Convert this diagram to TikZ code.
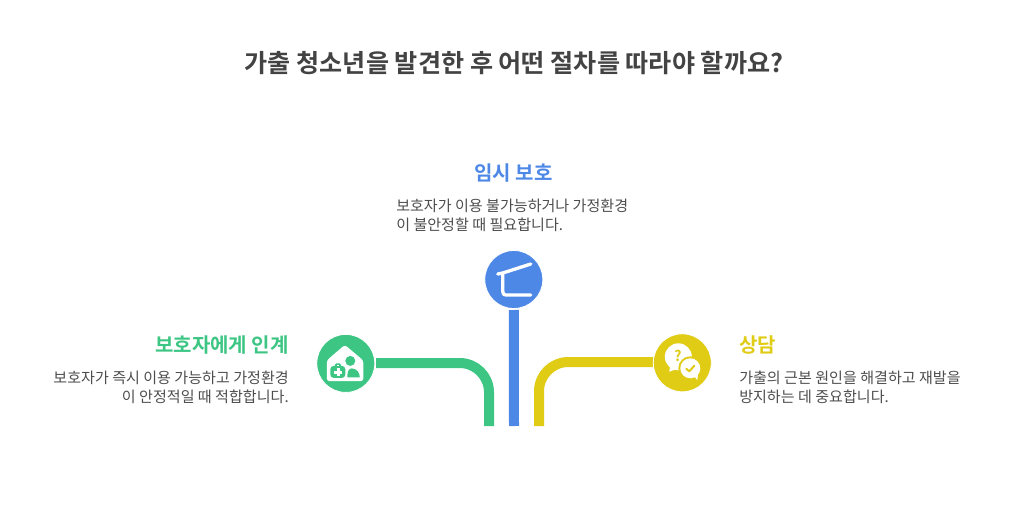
\documentclass[tikz,border=0pt]{standalone}
\usepackage{fontspec}
\setmainfont{Noto Sans CJK KR}
\newfontfamily\boldkr{Noto Sans CJK KR Bold}
\definecolor{grn}{HTML}{3CC583}
\definecolor{blu}{HTML}{4E88E7}
\definecolor{yel}{HTML}{E0CB15}
\definecolor{ink}{HTML}{4D4D4D}
\definecolor{ttl}{HTML}{434343}
\tikzset{
  x=0.75pt,y=-0.75pt,
  titletext/.style={text=ttl,font=\boldkr\fontsize{18.85}{22}\selectfont,inner sep=0pt},
  headtext/.style={font=\boldkr\fontsize{15}{18}\selectfont,inner sep=0pt},
  bodytext/.style={text=ink,font=\fontsize{11.3}{14.4}\selectfont,inner sep=0pt},
  disc/.style={circle,minimum size=43.5pt,inner sep=0pt,draw=white,line width=0.6pt},
  track/.style={line width=7.5pt,rounded corners=22pt},
  iconline/.style={draw=white,line width=2.5pt,line cap=round,line join=round},
}
\begin{document}
\begin{tikzpicture}
\useasboundingbox (0,0) rectangle (1028,506);
\node[titletext,anchor=center] (title) at (514,62.8) {가출 청소년을 발견한 후 어떤 절차를 따라야 할까요?};

\coordinate (gend) at (489,426);
\coordinate (bend) at (514,426);
\coordinate (yend) at (539,426);

\draw[track,grn] (gend) -- (489,363) -- (376,363);
\draw[track,yel] (yend) -- (539,362) -- (653,362);
\node[disc,fill=grn] (gcirc) at (345.8,363.4) {};
\node[disc,fill=blu] (bcirc) at (513.8,279.5) {};
\node[disc,fill=yel] (ycirc) at (682.3,362.8) {};
\draw[track,blu] (bend) -- (bcirc.south |- 0,310);

% green icon: house, kit, person
\begin{scope}[shift={(gcirc.center)}]
  \fill[white,rounded corners=2pt] (-19,-3) -- (-1,-18.5) -- (17.5,-3) -- (17.5,17.8) -- (-19,17.8) -- cycle;
  \fill[grn] (4.5,-2.5) circle (5);
  \fill[grn] (1.5,14) .. controls (1.5,8) and (3,5) .. (6,5) .. controls (10.5,5) and (14,9) .. (14,14) -- cycle;
  \fill[grn,rounded corners=2.5pt] (-15.5,2.5) rectangle (-0.5,14.5);
  \fill[grn,rounded corners=1pt] (-11,0) rectangle (-5,4);
  \fill[white] (-9,1.4) rectangle (-7,2.2);
  \fill[white] (-8.7,5) rectangle (-6.3,13);
  \fill[white] (-11.5,7.8) rectangle (-3.5,10.2);
\end{scope}

% blue icon: shelter
\begin{scope}[shift={(bcirc.center)}]
  \draw[iconline] (-16,-5.5) -- (-11,-6.5) -- (17,-15.5);
  \draw[iconline] (-11,-6.5) -- (-11,12) .. controls (-11,14.5) and (-10,15.5) .. (-8,15.5) -- (17,15.5);
\end{scope}

% yellow icon: speech bubbles
\begin{scope}[shift={(ycirc.center)}]
  \fill[white] (-4,-6) circle (13.5);
  \fill[white] (-12,2) -- (-13,9) -- (-3,5) -- cycle;
  \fill[yel] (8,5.5) circle (12);
  \fill[white] (8,5.5) circle (10);
  \fill[white] (11,12) -- (15,17.5) -- (16,9) -- cycle;
  \draw[yel,line width=1.5pt,line cap=round,line join=round] (4,6) -- (7,8.5) -- (12,3);
  \node[text=yel,font=\boldkr\fontsize{11}{11}\selectfont,inner sep=0pt] (qmark) at (-4.5,-7) {?};
\end{scope}

\node[headtext,text=blu,anchor=center] (bhead) at (513.5,172.8) {임시 보호};
\node[bodytext,anchor=north west,align=left] (bbody) at (396,198.5) {보호자가 이용 불가능하거나 가정환경\\이 불안정할 때 필요합니다.};
\node[headtext,text=grn,anchor=east] (ghead) at (289,345.3) {보호자에게 인계};
\node[bodytext,anchor=north east,align=right] (gbody) at (289,370.5) {보호자가 즉시 이용 가능하고 가정환경\\이 안정적일 때 적합합니다.};
\node[headtext,text=yel,anchor=west] (yhead) at (739,345.3) {상담};
\node[bodytext,anchor=north west,align=left] (ybody) at (739,370.5) {가출의 근본 원인을 해결하고 재발을\\방지하는 데 중요합니다.};
\end{tikzpicture}
\end{document}
